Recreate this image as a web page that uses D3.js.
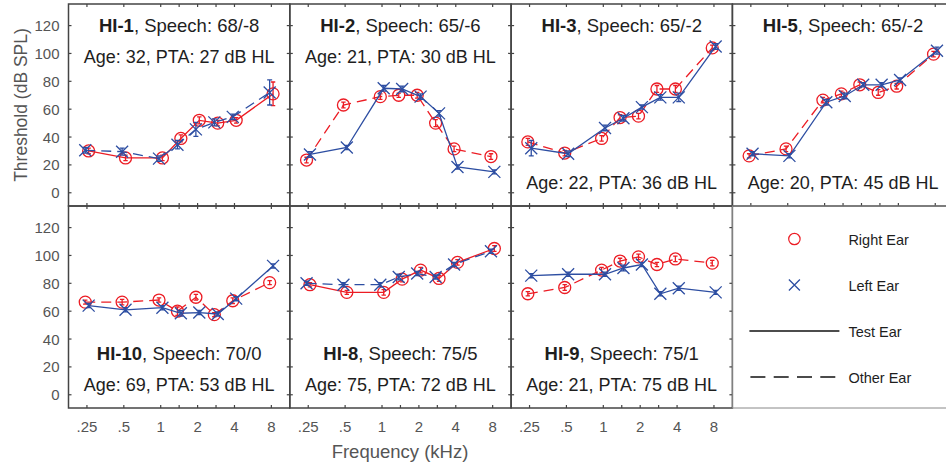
<!DOCTYPE html>
<html>
<head>
<meta charset="utf-8">
<script src="https://cdn.jsdelivr.net/npm/d3@7"></script>
<style>
  body { margin: 0; background: #fff; }
  svg { display: block; font-family: "Liberation Sans", Arial, Helvetica, sans-serif; }
</style>
</head>
<body>
<div id="chart"></div>
<script>
// Audiogram grid: right/left ear thresholds per subject, test ear solid, other ear dashed.

const freqs = [0.25, 0.5, 1, 1.5, 2, 3, 4, 8];
// 1.5 and 3 kHz sit halfway between octaves on this axis
const freqPos = [0, 1, 2, 2.5, 3, 3.5, 4, 5];
const freqLabels = [".25", ".5", "1", "", "2", "", "4", "8"];
const yTicks = [0, 20, 40, 60, 80, 100, 120];

const subjects = ["HI-1", "HI-2", "HI-3", "HI-5", "HI-10", "HI-8", "HI-9"];
const speech = ["68/-8", "65/-6", "65/-2", "65/-2", "70/0", "75/5", "75/1"];
const ages = [32, 21, 22, 20, 69, 75, 21];
const ptas = [27, 30, 36, 45, 53, 72, 75];
const testEar = ["R", "L", "L", "L", "L", "R", "L"];
const textPlace = ["top", "top", "split", "split", "bottom", "bottom", "bottom"];

const rightEar = [
  [30, 25, 25, 39, 52, 50, 52, 71],
  [23.5, 63, 69, 70, 70, 50, 31.5, 26],
  [36.5, 28.5, 39, 54, 55, 74.5, 74.5, 104],
  [26.5, 31.5, 66.5, 71, 77.5, 72, 76.5, 99.5],
  [66.5, 66.5, 68, 60, 70, 57.5, 67.5, 80.5],
  [79, 73.5, 73.5, 83, 89.5, 83.5, 95, 105],
  [72.5, 77, 89.5, 96, 99, 93.5, 97.5, 94.5]
];
const rightErr = [
  [2, 2, 2, 2.5, 2.5, 2, 2, 8.5],
  [2, 2, 2, 1.5, 2, 2.5, 2, 2],
  [2.5, 2, 2, 2, 2, 2.5, 2.5, 2],
  [1.5, 2, 2, 2, 2, 2, 2, 2],
  [1.5, 2, 1.5, 3, 2, 1.5, 2, 1.5],
  [1.5, 1.5, 2, 2, 2, 2, 2, 2],
  [1.5, 2, 2, 2, 2, 1.5, 2, 2]
];
const leftEar = [
  [30.5, 29.5, 24.5, 34.5, 45.5, 50.5, 54.5, 72],
  [27.5, 32.5, 75, 74.5, 69, 57, 18.5, 15],
  [32, 28, 46.5, 53.5, 61.5, 68.5, 68.5, 105],
  [28, 26.5, 65, 69.5, 77.5, 77.5, 81, 102],
  [64, 61, 62.5, 58.5, 59, 58, 69, 92.5],
  [80, 79, 79, 84.5, 87, 84.5, 93.5, 103],
  [85.5, 86.5, 86.5, 91, 93.5, 72.5, 76.5, 73.5]
];
const leftErr = [
  [2, 2.5, 2, 3, 5, 2.5, 2, 9],
  [2, 1.5, 2, 2, 2, 2, 1.5, 1.5],
  [5.5, 2, 2, 2, 1.5, 2, 3, 2],
  [1.5, 1.5, 2, 2, 1.5, 1.5, 1.5, 2.5],
  [1.5, 1.5, 1.5, 2, 1.5, 1.5, 1.5, 1.5],
  [1.5, 1.5, 1.5, 2, 1.5, 1.5, 1.5, 1.5],
  [1.5, 1.5, 1.5, 2, 1.5, 1.5, 1.5, 1.5]
];

const legendItems = ["Right Ear", "Left Ear", "Test Ear", "Other Ear"];

const RED = "#ec1c24", BLUE = "#2d4ea2", AX = "#444", TXT = "#1e1e1e", TICK = "#555";
const W = 946, H = 468;
const left0 = 68.5, top0 = 4, pw = 221.3, ph = 202;

const svg = d3.select("#chart").append("svg").attr("width", W).attr("height", H);

const x = d3.scaleLinear().domain([-0.5, 5.5]).range([0, pw]);
const y = d3.scaleLinear().domain([-9.5, 135.5]).range([ph, 0]);

function xMark(g, cx, cy, s, color) {
  g.append("path")
    .attr("d", `M${cx - s},${cy - s}L${cx + s},${cy + s}M${cx - s},${cy + s}L${cx + s},${cy - s}`)
    .attr("stroke", color).attr("stroke-width", 1.3).attr("fill", "none");
}

function drawEar(g, vals, errs, color, solid, shift, marker) {
  const pts = vals.map((v, i) => [x(freqPos[i]) + shift, y(v), errs[i], v]);
  g.append("path").datum(pts)
    .attr("d", d3.line().x(d => d[0]).y(d => d[1]))
    .attr("fill", "none").attr("stroke", color).attr("stroke-width", 1.3)
    .attr("stroke-dasharray", solid ? null : "10,6");
  pts.forEach(([px, py, e, v]) => {
    const y1 = y(v + e), y2 = y(v - e), eb = marker === "o" ? 2.2 : 2.5;
    g.append("path")
      .attr("d", `M${px},${y1}V${y2}M${px - eb},${y1}H${px + eb}M${px - eb},${y2}H${px + eb}`)
      .attr("stroke", color).attr("stroke-width", 1.3).attr("fill", "none");
    if (marker === "o") {
      g.append("circle").attr("cx", px).attr("cy", py).attr("r", 6)
        .attr("fill", "none").attr("stroke", color).attr("stroke-width", 1.3);
    } else {
      xMark(g, px, py, 6, color);
    }
  });
}

function ticks(g, showX, showY) {
  const tl = 3;
  freqPos.forEach((p, i) => {
    g.append("line").attr("x1", x(p)).attr("x2", x(p)).attr("y1", 0).attr("y2", tl).attr("stroke", AX).attr("stroke-width", 1.2);
    g.append("line").attr("x1", x(p)).attr("x2", x(p)).attr("y1", ph).attr("y2", ph - tl).attr("stroke", AX).attr("stroke-width", 1.2);
    if (showX && freqLabels[i]) {
      g.append("text").attr("x", x(p)).attr("y", ph + 24).attr("text-anchor", "middle")
        .attr("fill", TICK).style("font-size", "15px").text(freqLabels[i]);
    }
  });
  yTicks.forEach(t => {
    g.append("line").attr("x1", 0).attr("x2", tl).attr("y1", y(t)).attr("y2", y(t)).attr("stroke", AX).attr("stroke-width", 1.2);
    g.append("line").attr("x1", pw).attr("x2", pw - tl).attr("y1", y(t)).attr("y2", y(t)).attr("stroke", AX).attr("stroke-width", 1.2);
    if (showY) {
      g.append("text").attr("x", -9).attr("y", y(t) + 5.5).attr("text-anchor", "end")
        .attr("fill", TICK).style("font-size", "15px").text(t);
    }
  });
}

subjects.forEach((id, k) => {
  const col = k % 4, row = Math.floor(k / 4);
  const g = svg.append("g").attr("transform", `translate(${left0 + col * pw},${top0 + row * ph})`);
  const rTest = testEar[k] === "R";
  const shift = 1.7;
  drawEar(g, rightEar[k], rightErr[k], RED, rTest, rTest ? shift : -shift, "o");
  drawEar(g, leftEar[k], leftErr[k], BLUE, !rTest, rTest ? -shift : shift, "x");

  g.append("rect").attr("width", pw).attr("height", ph).attr("fill", "none").attr("stroke", AX).attr("stroke-width", 1.5);
  ticks(g, row === 1, col === 0);

  const place = textPlace[k];
  const tY = place === "bottom" ? 154 : 27.5;
  const aY = place === "top" ? 59 : 184.5;
  const title = g.append("text").attr("x", pw / 2).attr("y", tY).attr("text-anchor", "middle")
    .attr("fill", TXT).style("font-size", "18.5px");
  title.append("tspan").style("font-weight", "bold").text(id);
  title.append("tspan").text(", Speech: " + speech[k]);
  g.append("text").attr("x", pw / 2).attr("y", aY).attr("text-anchor", "middle")
    .attr("fill", TXT).style("font-size", "18px")
    .text(`Age: ${ages[k]}, PTA: ${ptas[k]} dB HL`);
});

// legend box in the last slot
const lg = svg.append("g").attr("transform", `translate(${left0 + 3 * pw},${top0 + ph})`);
lg.append("rect").attr("width", pw).attr("height", ph).attr("fill", "none").attr("stroke", "#888").attr("stroke-width", 1);
const rowY = d3.scalePoint().domain(legendItems).range([33, 171]);
lg.append("circle").attr("cx", 62).attr("cy", rowY("Right Ear")).attr("r", 5.7)
  .attr("fill", "none").attr("stroke", RED).attr("stroke-width", 1.2);
xMark(lg, 62, rowY("Left Ear"), 5.5, BLUE);
lg.append("line").attr("x1", 17).attr("x2", 107).attr("y1", rowY("Test Ear")).attr("y2", rowY("Test Ear"))
  .attr("stroke", "#111").attr("stroke-width", 1.6);
lg.append("line").attr("x1", 18).attr("x2", 104).attr("y1", rowY("Other Ear")).attr("y2", rowY("Other Ear"))
  .attr("stroke", "#111").attr("stroke-width", 1.3).attr("stroke-dasharray", "15,8.3");
legendItems.forEach(t => {
  lg.append("text").attr("x", 116).attr("y", rowY(t) + 5.5).attr("fill", TXT)
    .style("font-size", "14.5px").text(t);
});

svg.append("text").attr("transform", "translate(27,105) rotate(-90)").attr("text-anchor", "middle")
  .attr("fill", TICK).style("font-size", "17.5px").text("Threshold (dB SPL)");
svg.append("text").attr("x", 400).attr("y", 458).attr("text-anchor", "middle")
  .attr("fill", TICK).style("font-size", "18.5px").text("Frequency (kHz)");
</script>
</body>
</html>
